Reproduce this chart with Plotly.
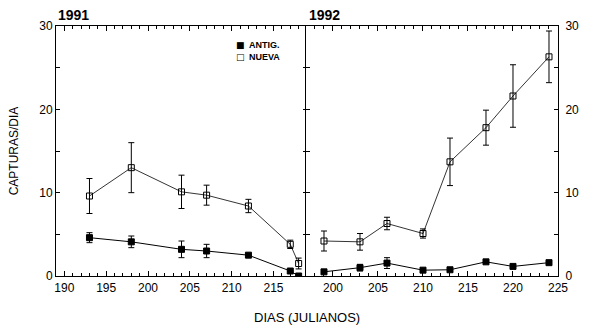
import plotly.graph_objects as go

# 1991 data
days_1991 = [193, 198, 204, 207, 212, 217, 218]
antig_1991 = [4.6, 4.1, 3.2, 3.0, 2.5, 0.6, 0.0]
antig_1991_err = [0.6, 0.7, 1.0, 0.8, 0.0, 0.0, 0.0]
nueva_1991 = [9.6, 13.0, 10.1, 9.7, 8.4, 3.8, 1.5]
nueva_1991_err = [2.1, 3.0, 2.0, 1.2, 0.8, 0.5, 0.65]

# 1992 data
days_1992 = [199, 203, 206, 210, 213, 217, 220, 224]
antig_1992 = [0.5, 1.0, 1.55, 0.7, 0.75, 1.7, 1.15, 1.6]
antig_1992_err = [0.0, 0.4, 0.65, 0.0, 0.0, 0.0, 0.0, 0.0]
nueva_1992 = [4.2, 4.1, 6.3, 5.1, 13.7, 17.8, 21.6, 26.3]
nueva_1992_err = [1.2, 1.0, 0.75, 0.55, 2.85, 2.1, 3.75, 3.1]

series_names = ["ANTIG.", "NUEVA"]
legend_glyphs = ["■", "□"]
panel_titles = ["1991", "1992"]
x_title = "DIAS (JULIANOS)"
y_title = "CAPTURAS/DIA"

BLACK = "#000000"
FONT = "Liberation Sans"

fig = go.Figure()


def add_pair(xs, ya, ya_err, yn, yn_err, xa, yax):
    fig.add_trace(go.Scatter(
        x=xs, y=ya, mode="lines+markers", xaxis=xa, yaxis=yax, name=series_names[0],
        showlegend=False,
        line=dict(color=BLACK, width=1),
        marker=dict(symbol="square", size=6, color=BLACK, line=dict(color=BLACK, width=1)),
        error_y=dict(type="data", array=ya_err, visible=True, color=BLACK, thickness=1, width=3),
    ))
    fig.add_trace(go.Scatter(
        x=xs, y=yn, mode="lines+markers", xaxis=xa, yaxis=yax, name=series_names[1],
        showlegend=False,
        line=dict(color=BLACK, width=0.8),
        marker=dict(symbol="square-open", size=6, color=BLACK, line=dict(color=BLACK, width=1)),
        error_y=dict(type="data", array=yn_err, visible=True, color=BLACK, thickness=1, width=3),
    ))


add_pair(days_1991, antig_1991, antig_1991_err, nueva_1991, nueva_1991_err, "x", "y")
add_pair(days_1992, antig_1992, antig_1992_err, nueva_1992, nueva_1992_err, "x2", "y2")

xcommon = dict(
    showgrid=False, zeroline=False, showline=True, linecolor=BLACK, linewidth=1,
    mirror="ticks", ticks="inside", ticklen=5, tickcolor=BLACK, dtick=5, tick0=0,
    tickfont=dict(family=FONT, size=12, color=BLACK), ticklabelstandoff=1,
    minor=dict(dtick=1, ticks="inside", ticklen=3, tickcolor=BLACK, showgrid=False),
)
ycommon = dict(
    showgrid=False, zeroline=False, showline=True, linecolor=BLACK, linewidth=1,
    mirror="ticks", ticks="inside", ticklen=4, tickcolor=BLACK, dtick=10, range=[0, 30],
    tickfont=dict(family=FONT, size=12, color=BLACK),
    minor=dict(dtick=5, ticks="inside", ticklen=4, tickcolor=BLACK, showgrid=False),
)

annotations = [
    dict(text=panel_titles[0], x=0.0, y=1.0, xref="paper", yref="paper",
         xanchor="left", yanchor="bottom", showarrow=False, yshift=1,
         font=dict(family=FONT, size=14, color=BLACK, weight="bold")),
    dict(text=panel_titles[1], x=0.5, y=1.0, xref="paper", yref="paper",
         xanchor="left", yanchor="bottom", showarrow=False, yshift=1,
         font=dict(family=FONT, size=14, color=BLACK, weight="bold")),
    dict(text=x_title, x=0.5, y=0.0, xref="paper", yref="paper",
         xanchor="center", yanchor="top", showarrow=False, yshift=-32,
         font=dict(family=FONT, size=13, color=BLACK)),
]
# legend drawn as text (glyph + label), inside the 1991 panel
for i, (g, n) in enumerate(zip(legend_glyphs, series_names)):
    yl = 0.925 - i * 0.048
    annotations.append(dict(text=g, x=0.368, y=yl, xref="paper", yref="paper",
                            xanchor="center", yanchor="middle", showarrow=False,
                            font=dict(family="DejaVu Sans", size=9, color=BLACK)))
    annotations.append(dict(text=n, x=0.381, y=yl, xref="paper", yref="paper",
                            xanchor="left", yanchor="middle", showarrow=False,
                            font=dict(family=FONT, size=9, color=BLACK, weight="bold")))

fig.update_layout(
    width=591, height=329,
    margin=dict(l=56, r=33, t=26, b=53),
    paper_bgcolor="white", plot_bgcolor="white",
    font=dict(family=FONT, size=12, color=BLACK),
    xaxis=dict(domain=[0, 0.5], range=[189, 219], anchor="y", **xcommon),
    xaxis2=dict(domain=[0.498, 1], range=[197, 225], anchor="y2", **xcommon),
    yaxis=dict(domain=[0, 1], anchor="x", side="left",
               title=dict(text=y_title, font=dict(family=FONT, size=12), standoff=18),
               **ycommon),
    yaxis2=dict(domain=[0, 1], anchor="x2", side="right", ticklabelstandoff=4, **ycommon),
    showlegend=False,
    annotations=annotations,
)

fig.write_html("out.html")
